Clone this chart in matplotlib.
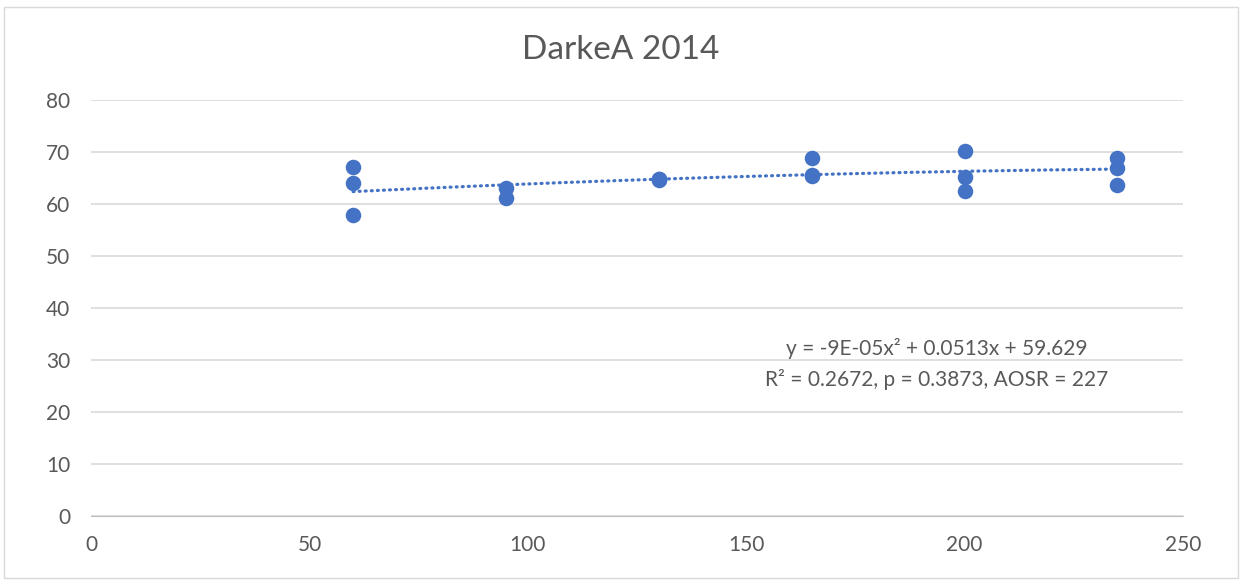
import matplotlib.pyplot as plt
import matplotlib.patches as patches
import numpy as np

# rate vs yield points
rate = [60, 60, 60, 95, 95, 130, 130, 130, 165, 165, 165, 200, 200, 200, 235, 235, 235]
yld = [67.1, 64.0, 57.9, 63.0, 61.2, 64.8, 64.7, 64.9, 68.8, 65.4, 65.6, 70.1, 65.1, 62.5, 68.9, 66.9, 63.7]

# quadratic fit shown on chart
a2, a1, a0 = -9e-05, 0.0513, 59.629
eq_text = "y = -9E-05x² + 0.0513x + 59.629"
stat_text = "R² = 0.2672, p = 0.3873, AOSR = 227"

plt.rcParams['font.family'] = ['Lato', 'DejaVu Sans']

txt = '#595959'
blue = '#4472C4'

fig = plt.figure(figsize=(12.42, 5.8), dpi=100)
fig.patches.append(patches.Rectangle((0.003, 0.003), 0.994, 0.985, transform=fig.transFigure,
                                     fill=False, edgecolor='#D9D9D9', linewidth=1))
ax = fig.add_axes([0.0733, 0.1103, 0.8792, 0.7173])

xt = np.linspace(min(rate), max(rate), 200)
ax.plot(xt, a2 * xt**2 + a1 * xt + a0, linestyle=(0, (0.3, 1.6)), dash_capstyle='round',
        color=blue, linewidth=2.3, zorder=2)
ax.scatter(rate, yld, s=125, color=blue, zorder=3, linewidths=0)

ax.set_xlim(0, 250)
ax.set_ylim(0, 80)
ax.set_xticks(range(0, 251, 50))
ax.set_yticks(range(0, 81, 10))
ax.grid(axis='y', color='#D9D9D9', linewidth=1.2)
ax.set_axisbelow(True)
for s in ['top', 'right', 'left']:
    ax.spines[s].set_visible(False)
ax.spines['bottom'].set_color('#BFBFBF')
ax.tick_params(length=0, labelsize=15, labelcolor=txt)
ax.tick_params(axis='y', pad=15)
ax.tick_params(axis='x', pad=14)

ax.text(193.7, 32.3, eq_text, ha='center', va='center', fontsize=15, color=txt)
ax.text(193.7, 26.2, stat_text, ha='center', va='center', fontsize=15, color=txt)

fig.text(0.5, 0.913, "DarkeA 2014", ha='center', va='center', fontsize=24, color=txt)

fig.savefig('out.png', dpi=100)
